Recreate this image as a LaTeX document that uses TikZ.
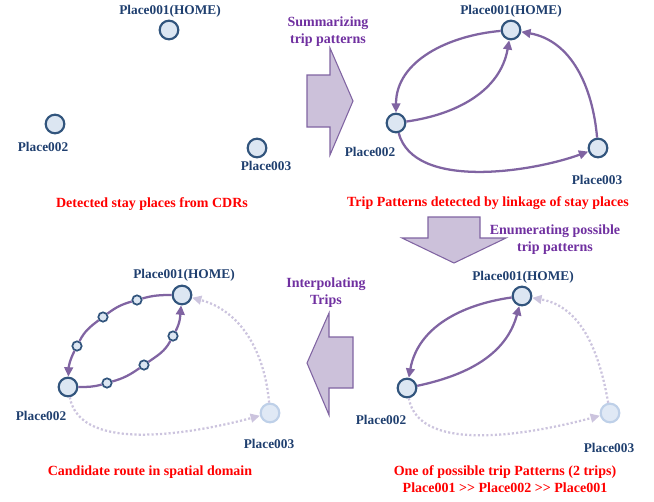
\documentclass[tikz,border=0pt]{standalone}
\usepackage{fontspec}
\setmainfont{Liberation Serif}
\usetikzlibrary{arrows.meta}

\definecolor{labelblue}{RGB}{31,63,111}
\definecolor{circleblue}{RGB}{50,85,125}
\definecolor{placefill}{RGB}{220,230,242}
\definecolor{ghostblue}{RGB}{190,208,232}
\definecolor{ghostfill}{RGB}{224,233,245}
\definecolor{tripviolet}{RGB}{128,100,162}
\definecolor{faintviolet}{RGB}{204,196,222}
\definecolor{blockfill}{RGB}{204,193,218}
\definecolor{stepviolet}{RGB}{112,48,160}

\begin{document}
\begin{tikzpicture}[x=0.75pt,y=0.75pt,
	place/.style={circle,draw=circleblue,fill=placefill,line width=1.6pt,minimum size=14pt,inner sep=0pt},
	ghost/.style={circle,draw=ghostblue,fill=ghostfill,line width=1.6pt,minimum size=14pt,inner sep=0pt},
	waypt/.style={circle,draw=circleblue,fill=placefill,line width=1.3pt,minimum size=7pt,inner sep=0pt},
	placelabel/.style={text=labelblue,font=\fontsize{10}{12}\selectfont\bfseries,inner sep=0pt},
	caption/.style={text=red,font=\fontsize{10.5}{12.5}\selectfont\bfseries,align=center,inner sep=0pt},
	steplabel/.style={text=stepviolet,font=\fontsize{10.5}{12.75}\selectfont\bfseries,align=center,inner sep=0pt},
	triplink/.style={draw=tripviolet,line width=1.7pt},
	trip/.style={triplink,-{Triangle[length=7pt,width=6.5pt]}},
	faint/.style={draw=faintviolet,line width=1.7pt,dash pattern=on 1.6pt off 1.6pt,-{Triangle[length=7pt,width=6.5pt]}},
	blockarrow/.style={fill=blockfill,draw=tripviolet,line width=0.8pt,line join=miter}]

		\useasboundingbox (0,0) rectangle (654,-501);

		% detected stay places
		\node[place] (ahome) at (169,-30) {};
		\node[place] (aplace2) at (55,-124) {};
		\node[place] (aplace3) at (257,-148) {};
		\node[placelabel] (ahomelbl) at (170,-11) {Place001(HOME)};
		\node[placelabel] (aplace2lbl) at (43,-147) {Place002};
		\node[placelabel] (aplace3lbl) at (266,-166) {Place003};
		\node[caption] (acap) at (152,-204) {Detected stay places from CDRs};

		% summarizing
		\filldraw[blockarrow] (307,-75) -- (330,-75) -- (330,-48) -- (353,-101) -- (330,-155) -- (330,-127) -- (307,-127) -- cycle;
		\node[steplabel] (bstep) at (328,-31.5) {Summarizing\\trip patterns};

		% trip patterns
		\node[place] (bhome) at (511,-30) {};
		\node[place] (bplace2) at (396,-123) {};
		\node[place] (bplace3) at (598,-148) {};
		\node[placelabel] (bhomelbl) at (511,-11) {Place001(HOME)};
		\node[placelabel] (bplace2lbl) at (370,-152) {Place002};
		\node[placelabel] (bplace3lbl) at (597,-180) {Place003};
		\node[caption] (bcap) at (488,-203) {Trip Patterns detected by linkage of stay places};
		\draw[trip] (bhome) to[out=185,in=90] (bplace2);
		\draw[trip] (bplace2) to[out=8,in=260] (bhome);
		\draw[trip] (bplace2) to[out=285,in=200,looseness=0.8] (bplace3);
		\draw[trip] (bplace3) to[out=95,in=350] (bhome);

		% enumerating
		\filldraw[blockarrow] (428,-217) -- (480,-217) -- (480,-238) -- (506,-238) -- (454,-263) -- (402,-238) -- (428,-238) -- cycle;
		\node[steplabel] (cstep) at (555,-239.5) {Enumerating possible\\trip patterns};

		% one possible pattern
		\node[ghost] (cplace3) at (610,-413) {};
		\node[place] (chome) at (522,-296) {};
		\node[place] (cplace2) at (407,-388) {};
		\node[placelabel] (chomelbl) at (523,-277) {Place001(HOME)};
		\node[placelabel] (cplace2lbl) at (381,-420) {Place002};
		\node[placelabel] (cplace3lbl) at (609,-448) {Place003};
		\node[caption] (ccap) at (505,-479) {One of possible trip Patterns (2 trips)\\Place001 >{}> Place002 >{}> Place001};
		\draw[faint] (cplace2) to[out=280,in=195,looseness=0.8] (cplace3);
		\draw[faint] (cplace3) to[out=100,in=350] (chome);
		\draw[trip] (chome) to[out=188,in=80] (cplace2);
		\draw[trip] (cplace2) to[out=12,in=255] (chome);

		% interpolating
		\filldraw[blockarrow] (353,-337) -- (329,-337) -- (329,-313) -- (307,-363) -- (329,-415) -- (329,-388) -- (353,-388) -- cycle;
		\node[steplabel] (dstep) at (326,-293) {Interpolating\\Trips};

		% candidate route
		\node[ghost] (dplace3) at (270,-413) {};
		\node[place] (dhome) at (182,-295) {};
		\node[place] (dplace2) at (68,-387) {};
		\node[waypt] (dway1) at (137,-300) {};
		\node[waypt] (dway2) at (103,-317) {};
		\node[waypt] (dway3) at (77,-346) {};
		\node[waypt] (dway4) at (107,-383) {};
		\node[waypt] (dway5) at (144,-365) {};
		\node[waypt] (dway6) at (173,-336) {};
		\node[placelabel] (dhomelbl) at (184,-275) {Place001(HOME)};
		\node[placelabel] (dplace2lbl) at (41,-416) {Place002};
		\node[placelabel] (dplace3lbl) at (269,-444) {Place003};
		\node[caption] (dcap) at (150,-472) {Candidate route in spatial domain};
		\draw[faint] (dplace2) to[out=280,in=195,looseness=0.8] (dplace3);
		\draw[faint] (dplace3) to[out=95,in=345] (dhome);
		\draw[triplink] (dhome) to[out=180,in=16] (dway1);
		\draw[triplink] (dway1) to[out=196,in=37] (dway2);
		\draw[triplink] (dway2) to[out=217,in=63] (dway3);
		\draw[trip] (dway3) to[out=243,in=88] (dplace2);
		\draw[triplink] (dplace2) to[out=0,in=196] (dway4);
		\draw[triplink] (dway4) to[out=16,in=215] (dway5);
		\draw[triplink] (dway5) to[out=35,in=242] (dway6);
		\draw[trip] (dway6) to[out=62,in=265] (dhome);

		\end{tikzpicture}
\end{document}
